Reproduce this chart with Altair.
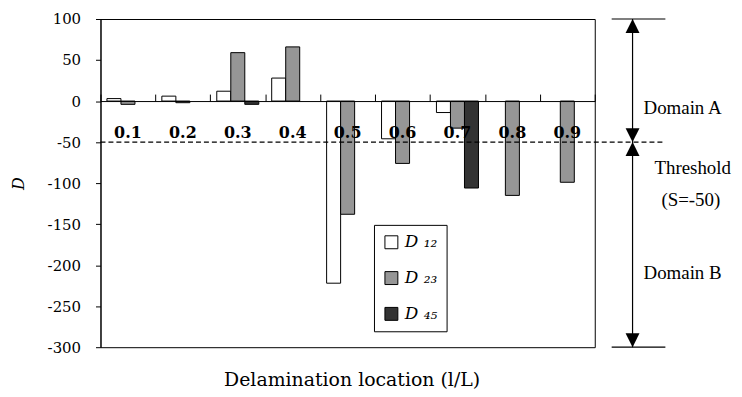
import altair as alt
import pandas as pd

# ---- data ----
locations = ["0.1", "0.2", "0.3", "0.4", "0.5", "0.6", "0.7", "0.8", "0.9"]
series = ["D12", "D23", "D45"]
d12 = [3, 6, 12, 28, -222, -46, -14, 0, 0]
d23 = [-4, -2, 59, 66, -138, -76, -33, -115, -99]
d45 = [0, 0, -4, 0, 0, 0, -106, 0, 0]
y_ticks = [100, 50, 0, -50, -100, -150, -200, -250, -300]
threshold = -50
domain_top = 100
domain_bottom = -300
fills = ["#ffffff", "#969696", "#333333"]

rows = []
for s, vals in zip(series, [d12, d23, d45]):
    for loc, v in zip(locations, vals):
        if v != 0:
            rows.append({"loc": loc, "series": s, "D": v})
df = pd.DataFrame(rows)

W, H = 497, 330
zero_px = H * (domain_top - 0) / (domain_top - domain_bottom)

yscale = alt.Scale(domain=[domain_bottom, domain_top], nice=False, zero=False)
xscale = alt.Scale(domain=locations, paddingInner=0, paddingOuter=0)

SERIF = "DejaVu Serif"
TIMES = "Liberation Serif"

legend = alt.Legend(
    orient="none", legendX=275, legendY=207, direction="vertical", title=None,
    symbolType="square", symbolSize=169, symbolStrokeColor="black", symbolStrokeWidth=1,
    labelFont=SERIF, labelFontStyle="italic", labelFontSize=17, labelColor="black",
    labelExpr="datum.label == 'D12' ? 'D \u2081\u2082' : datum.label == 'D23' ? 'D \u2082\u2083' : 'D \u2084\u2085'",
    padding=9, rowPadding=18, labelOffset=5, strokeColor="black", fillColor="white",
)

bars = alt.Chart(df).mark_bar(stroke="black", strokeWidth=1).encode(
    x=alt.X("loc:N", scale=xscale, sort=locations,
            axis=alt.Axis(orient="top", offset=-zero_px, labels=False, title=None,
                          tickBand="extent", tickSize=7, domainColor="black",
                          tickColor="black", grid=False, zindex=1)),
    xOffset=alt.XOffset("series:N", scale=alt.Scale(domain=series, paddingInner=0, paddingOuter=0.46)),
    y=alt.Y("D:Q", scale=yscale,
            axis=alt.Axis(values=y_ticks, title="D", titleFont=SERIF, titleFontStyle="italic",
                          titleFontWeight="normal", titleFontSize=16, titleColor="black",
                          titlePadding=21, labelFont=SERIF, labelFontSize=15, labelColor="black",
                          labelExpr="datum.value + ''", labelPadding=15, tickSize=5,
                          tickColor="black", domainColor="black", grid=False)),
    color=alt.Color("series:N", scale=alt.Scale(domain=series, range=fills), legend=legend),
)

labels_axis = alt.Chart(pd.DataFrame({"loc": locations})).mark_point(opacity=0).encode(
    x=alt.X("loc:N", scale=xscale, sort=locations,
            axis=alt.Axis(orient="bottom", offset=-(H - zero_px), ticks=False, domain=False,
                          title=None, labelAngle=0, labelPadding=24, labelFont=SERIF,
                          labelFontWeight="bold", labelFontSize=16, labelColor="black",
                          grid=False, zindex=2)),
)

dash = alt.Chart().mark_rule(strokeDash=[5, 3], color="black", strokeWidth=1.2, clip=False).encode(
    y=alt.datum(threshold), x=alt.value(0), x2=alt.value(566)
)

vline = alt.Chart().mark_rule(color="black", strokeWidth=1.2, clip=False).encode(
    x=alt.value(535), y=alt.datum(domain_top), y2=alt.datum(domain_bottom)
)

hlines = [
    alt.Chart().mark_rule(color="black", strokeWidth=1.2, clip=False).encode(
        y=alt.datum(v), x=alt.value(514), x2=alt.value(568))
    for v in [domain_top, domain_bottom]
]

UP = "M0,0L1,2L-1,2Z"
DOWN = "M0,0L1,-2L-1,-2Z"
arrows = []
for v in [domain_top, threshold]:
    arrows.append(alt.Chart().mark_point(shape=UP, filled=True, size=196, color="black",
                                         opacity=1, clip=False).encode(
        x=alt.value(535), y=alt.datum(v)))
for v in [threshold, domain_bottom]:
    arrows.append(alt.Chart().mark_point(shape=DOWN, filled=True, size=196, color="black",
                                         opacity=1, clip=False).encode(
        x=alt.value(535), y=alt.datum(v)))

def note(txt, x, y):
    return alt.Chart().mark_text(text=txt, align="left", baseline="middle", font=TIMES,
                                 fontSize=19, color="black", clip=False).encode(
        x=alt.value(x), y=alt.value(y))

notes = [
    note("Domain A", 546, 90),
    note("Threshold", 557, 150),
    note("(S=-50)", 564, 182),
    note("Domain B", 546, 255),
]

xtitle = alt.Chart().mark_text(text="Delamination location (l/L)", align="center",
                               baseline="middle", font=SERIF, fontSize=19, color="black",
                               clip=False).encode(x=alt.value(253), y=alt.value(363))

chart = alt.layer(
    bars, labels_axis, dash, vline, *hlines, *arrows, *notes, xtitle
).resolve_axis(x="independent").properties(
    width=W, height=H,
    autosize=alt.AutoSizeParams(type="none"),
    padding={"left": 93, "top": 10, "right": 140, "bottom": 46},
    background="white",
).configure_view(stroke="black", strokeWidth=1)

chart.save("out.html", embed_options={"renderer": "svg", "actions": False})
